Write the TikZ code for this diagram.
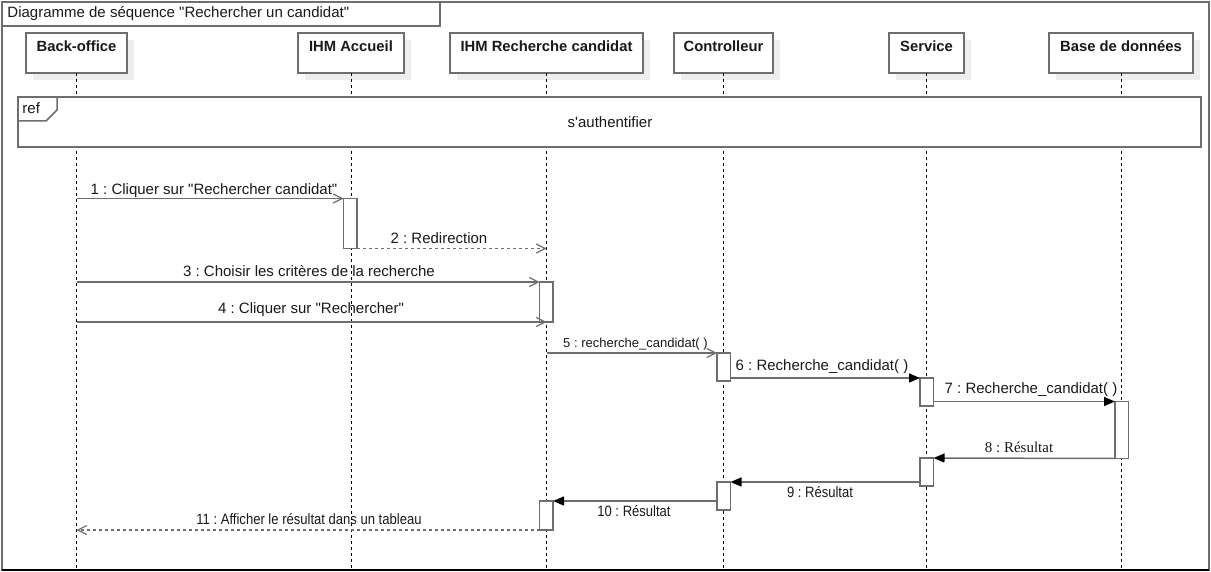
\documentclass[tikz,border=0pt]{standalone}
\usepackage{fontspec}
\setmainfont{Liberation Sans}[Ligatures=TeXOff]
\newfontfamily\serifx{Liberation Serif}[Ligatures=TeXOff]
\usetikzlibrary{arrows.meta,shadows,calc}
\definecolor{lc}{RGB}{110,110,110}
\definecolor{shd}{RGB}{238,238,238}
\definecolor{tc}{RGB}{25,25,25}
\newcommand{\nrw}[1]{\scalebox{0.87}[1]{#1}}
\frenchspacing
\begin{document}
\begin{tikzpicture}[x=1pt,y=-1pt,
  every node/.style={inner sep=0pt, outer sep=0pt, text=tc},
  head/.style={draw=lc, line width=1.5pt, fill=white, minimum height=40, anchor=north west,
    general shadow={fill=shd, shadow xshift=7pt, shadow yshift=-7pt}},
  headtxt/.style={font=\bfseries\fontsize{14.8}{17}\selectfont},
  life/.style={draw=black, line width=1pt, dash pattern=on 3pt off 3pt},
  act/.style={draw=lc, line width=1.5pt, fill=white, minimum width=13.5, anchor=north west},
  syncmsg/.style={draw=lc, line width=1.5pt, -{Straight Barb[length=9pt,width=9pt,line width=1.2pt]}},
  retmsg/.style={draw=lc, line width=1.5pt, dash pattern=on 3pt off 3pt, -{Straight Barb[length=9pt,width=9pt,line width=1.2pt]}},
  callmsg/.style={draw=lc, line width=1.5pt, -{Triangle[length=11pt,width=9pt,color=black]}},
  lbl/.style={font=\fontsize{15}{17}\selectfont},
  nlbl/.style={font=\fontsize{15}{17}\selectfont},
  tlbl/.style={font=\fontsize{13}{15}\selectfont},
  frm/.style={draw=lc, line width=1.5pt}
]
\useasboundingbox (0,0) rectangle (1211,572);
% frame
\node[frm, minimum width=1207, minimum height=568, anchor=north west] (frame) at (2,2) {};
\node[frm, minimum width=438, minimum height=24, anchor=north west] (title) at (2,2) {};
\node[lbl, anchor=west] (titletxt) at (7.5,13.5) {Diagramme de séquence "Rechercher un candidat"};
\draw[black, line width=2.5pt] (frame.south west) -- (frame.south east);

% lifeline heads
\node[head, minimum width=101] (bo) at (26,33) {};
\node[head, minimum width=106] (ia) at (298,33) {};
\node[head, minimum width=193] (ir) at (450,33) {};
\node[head, minimum width=99] (ct) at (674,33) {};
\node[head, minimum width=75] (sv) at (889,33) {};
\node[head, minimum width=144] (db) at (1049,33) {};
\node[headtxt] (bot) at ($(bo.north)+(0,13.5)$) {Back-office};
\node[headtxt] (iat) at ($(ia.north)+(0,13.5)$) {IHM Accueil};
\node[headtxt] (irt) at ($(ir.north)+(0,13.5)$) {IHM Recherche candidat};
\node[headtxt] (ctt) at ($(ct.north)+(0,13.5)$) {Controlleur};
\node[headtxt] (svt) at ($(sv.north)+(0,13.5)$) {Service};
\node[headtxt] (dbt) at ($(db.north)+(0,13.5)$) {Base de données};

% lifelines
\coordinate (bottom) at (0,569);
\foreach \n in {bo,ia,ir,ct,sv,db}{
  \draw[life] (\n.south) -- (\n.south |- bottom);
}

% ref fragment
\node[frm, fill=white, minimum width=1183, minimum height=50, anchor=north west] (ref) at (18,97) {};
\draw[frm] (ref.north west) -- ++(39,0) -- ++(0,13) -- ++(-11,11) -- ++(-28,0);
\node[lbl, anchor=west] (reft) at (22.5,108.5) {ref};
\node[lbl] (reftxt) at (610,122) {s'authentifier};

% activation boxes
\node[act, minimum height=50] (a1) at (343.5,198.5) {};
\node[act, minimum height=40] (a2) at (539.5,282) {};
\node[act, minimum height=28] (a3) at (717,353) {};
\node[act, minimum height=28] (a4) at (920,378) {};
\node[act, minimum height=57] (a5) at (1115,401.5) {};
\node[act, minimum height=28] (a6) at (920,458) {};
\node[act, minimum height=28] (a7) at (717,482) {};
\node[act, minimum height=29] (a8) at (539.5,501) {};

% messages
\draw[syncmsg] (bo.south |- a1.north west) -- (a1.north west);
\node[lbl] (l1) at (214,191) {1 : Cliquer sur "Rechercher candidat"};

\draw[retmsg] (a1.south east) -- (ir.south |- a1.south east);
\node[lbl] (l2) at (439,238) {2 : Redirection};

\draw[syncmsg] (bo.south |- a2.north west) -- (a2.north west);
\node[lbl] (l3) at (309,271) {3 : Choisir les critères de la recherche};

\draw[syncmsg] (bo.south |- a2.south west) -- (ir.south |- a2.south west);
\node[lbl] (l4) at (311,310) {4 : Cliquer sur "Rechercher"};

\draw[syncmsg] (ir.south |- a3.north west) -- (a3.north west);
\node[tlbl] (l5) at (635.5,344) {5 : recherche\_candidat( )};

\draw[callmsg] (a3.east |- a4.north west) -- (a4.north west);
\node[lbl] (l6) at (822,367) {6 : Recherche\_candidat( )};

\draw[callmsg] (a4.east |- a5.north west) -- (a5.north west);
\node[lbl] (l7) at (1031,390) {7 : Recherche\_candidat( )};

\draw[callmsg] (a5.south west) -- (a6.north east);
\node[font=\serifx\fontsize{15}{17}\selectfont] (l8) at (1019,447) {8 : Résultat};

\draw[callmsg] (a6.west |- a7.north east) -- (a7.north east);
\node[nlbl] (l9) at (820,492) {\nrw{9 : Résultat}};

\draw[callmsg] (a7.west |- a8.north east) -- (a8.north east);
\node[nlbl] (l10) at (634,511) {\nrw{10 : Résultat}};

\draw[retmsg] (a8.south west) -- (bo.south |- a8.south west);
\node[nlbl] (l11) at (309,519) {\nrw{11 : Afficher le résultat dans un tableau}};
\end{tikzpicture}
\end{document}
